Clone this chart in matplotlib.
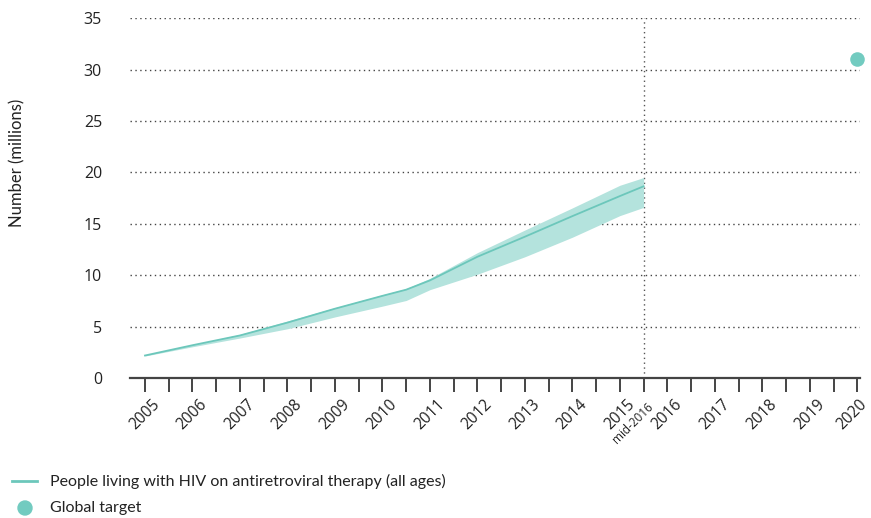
import matplotlib
matplotlib.use("Agg")
import matplotlib.pyplot as plt
import matplotlib.patches as mpatches
import matplotlib.transforms as mtransforms
import numpy as np

plt.rcParams['font.family'] = ['Lato', 'DejaVu Sans']

# People on ART (millions), with uncertainty range
years = [2005, 2006, 2007, 2008, 2009, 2010, 2010.5, 2011, 2012, 2013, 2014, 2015, 2015.5]
art = [2.2, 3.2, 4.15, 5.4, 6.75, 8.0, 8.6, 9.5, 11.8, 13.75, 15.75, 17.7, 18.65]
art_low = [2.15, 3.05, 3.9, 4.8, 5.95, 7.0, 7.55, 8.6, 10.1, 11.8, 13.7, 15.8, 16.6]
art_high = [2.25, 3.25, 4.25, 5.55, 6.85, 8.1, 8.7, 9.7, 12.2, 14.4, 16.55, 18.75, 19.5]

target_year = [2020]
target_value = [31]

tick_years = list(range(2005, 2021))
tick_labels = [str(y) for y in tick_years]
cutoff = 2015.5
cutoff_label = "mid-2016"

line_color = "#6cc7bb"
band_color = "#b4e3dd"
text_color = "#222222"
tick_font = ['Open Sans', 'DejaVu Sans']

fig = plt.figure(figsize=(8.71, 5.18), dpi=100)
ax = fig.add_axes([0.149, 0.27, 0.838, 0.695])

ax.fill_between(years, art_low, art_high, color=band_color, lw=0, zorder=2)
ax.plot(years, art, color=line_color, lw=1.3, zorder=3)
ax.scatter(target_year, target_value, s=110, color="#72cbc0", zorder=4, clip_on=False, lw=0)

ax.axvline(cutoff, color="#555555", lw=1.0, ls=(0, (1, 2.5)), zorder=1)

ax.set_ylim(0, 35)
ax.set_xlim(2004.68, 2020.05)
ax.set_yticks(range(0, 36, 5))
ax.yaxis.grid(True, color="#444444", lw=1.0, ls=(0, (1, 2.5)))
ax.set_axisbelow(True)

for s in ['top', 'right', 'left']:
    ax.spines[s].set_visible(False)
ax.spines['bottom'].set_color("#444444")
ax.spines['bottom'].set_linewidth(1.6)

ax.tick_params(axis='y', length=0, labelsize=11.5, labelcolor=text_color, pad=20)
for lab in ax.get_yticklabels():
    lab.set_family(tick_font)
ax.set_xticks(tick_years)
ax.set_xticks(np.arange(2005, 2020, 1) + 0.5, minor=True)
ax.tick_params(axis='x', which='both', length=10, width=1.4, color="#444444",
               direction='out', pad=3)
ax.set_xticklabels(tick_labels, rotation=45, ha='center', fontsize=11.2,
                   color=text_color, family=tick_font)
# keep the last year label inside the figure edge
last = ax.get_xticklabels()[-1]
last.set_transform(last.get_transform() +
                   mtransforms.ScaledTranslation(-5 / 100, 0, fig.dpi_scale_trans))

ax.annotate(cutoff_label, xy=(cutoff, 0), xycoords='data',
            xytext=(-11, -22), textcoords='offset pixels',
            rotation=45, ha='center', va='top', fontsize=8.5,
            color=text_color, family=tick_font)

ax.set_ylabel("Number (millions)", fontsize=12, color=text_color)
ax.yaxis.set_label_coords(-0.143, 0.597)

# Legend drawn below the axes
fig.lines.append(plt.Line2D([12 / 871, 37 / 871], [1 - 481 / 518, 1 - 481 / 518],
                            color=line_color, lw=2, transform=fig.transFigure))
fig.text(50 / 871, 1 - 481 / 518, "People living with HIV on antiretroviral therapy (all ages)",
         fontsize=11.5, va='center', color=text_color)
fig.patches.append(mpatches.Circle((25, 518 - 508), 7, color="#72cbc0", transform=None))
fig.text(50 / 871, 1 - 508 / 518, "Global target", fontsize=11.5, va='center', color=text_color)

fig.savefig("out.png", dpi=100)
